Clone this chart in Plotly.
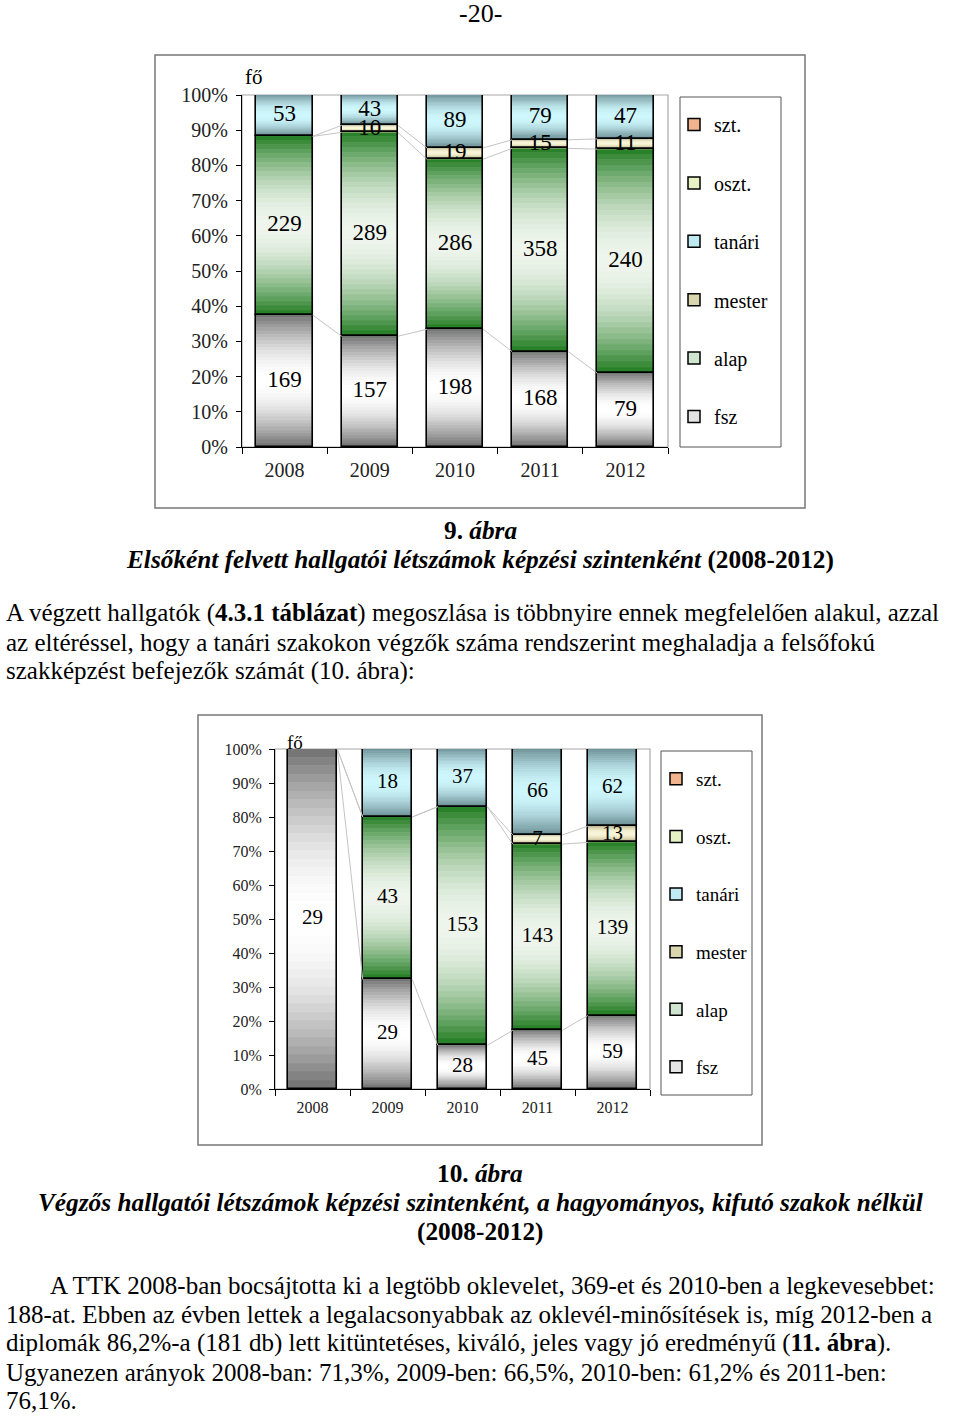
import numpy as np
import plotly.graph_objects as go

W, H = 960, 1416

# ---------------- data ----------------
years = ["2008", "2009", "2010", "2011", "2012"]
series_names = ["fsz", "alap", "mester", "tanári", "oszt.", "szt."]
y_tick_vals = [0, 10, 20, 30, 40, 50, 60, 70, 80, 90, 100]
y_tick_text = ["0%", "10%", "20%", "30%", "40%", "50%", "60%", "70%", "80%", "90%", "100%"]

# chart 9: first-year admissions by level
c1_fsz = [169, 157, 198, 168, 79]
c1_alap = [229, 289, 286, 358, 240]
c1_mester = [0, 10, 19, 15, 11]
c1_tanari = [53, 43, 89, 79, 47]
c1_oszt = [0, 0, 0, 0, 0]
c1_szt = [0, 0, 0, 0, 0]

# chart 10: graduates by level
c2_fsz = [29, 29, 28, 45, 59]
c2_alap = [0, 43, 153, 143, 139]
c2_mester = [0, 0, 0, 7, 13]
c2_tanari = [0, 18, 37, 66, 62]
c2_oszt = [0, 0, 0, 0, 0]
c2_szt = [0, 0, 0, 0, 0]

# ---------------- styles ----------------
FONT = "Liberation Serif, Times New Roman, serif"
edge_col = {"fsz": (110, 110, 110), "alap": (30, 122, 30), "mester": (178, 172, 130),
            "tanári": (104, 140, 146), "oszt.": (190, 205, 140), "szt.": (200, 130, 90)}
light_col = {"fsz": (255, 255, 255), "alap": (238, 245, 236), "mester": (248, 244, 214),
             "tanári": (205, 246, 252), "oszt.": (240, 248, 210), "szt.": (250, 200, 170)}
legend_col = {"szt.": "#f2b48e", "oszt.": "#e6f2c4", "tanári": "#bfeaf2",
              "mester": "#d9d5ad", "alap": "#cfe5cf", "fsz": "#e4e4e4"}
NSLICE = 40
BARW = 0.66


def grad(name, t):
    f = np.sin(np.pi * t) ** 0.9
    e, l = edge_col[name], light_col[name]
    c = [int(round(e[i] + (l[i] - e[i]) * f)) for i in range(3)]
    return "rgb(%d,%d,%d)" % tuple(c)


def px(x):
    return x / W


def py(y):
    return 1 - y / H


fig = go.Figure()


def add_chart(idx, data, label_size):
    xa = "x" if idx == 1 else "x2"
    ya = "y" if idx == 1 else "y2"
    leg = "legend" if idx == 1 else "legend2"
    xs = np.arange(len(years))
    vals = np.array([data[n] for n in series_names], dtype=float)
    tot = vals.sum(axis=0)
    pct = vals / tot * 100
    cum = np.cumsum(pct, axis=0)
    bottoms = cum - pct

    # series lines between bars
    for s in range(3):
        lx, ly = [], []
        for i in range(len(years) - 1):
            lx += [xs[i] + BARW / 2, xs[i + 1] - BARW / 2, None]
            ly += [cum[s][i], cum[s][i + 1], None]
        fig.add_trace(go.Scatter(x=lx, y=ly, mode="lines", xaxis=xa, yaxis=ya,
                                 line=dict(color="#c4c4c4", width=1), showlegend=False,
                                 hoverinfo="skip"))

    # gradient slices
    for s, name in enumerate(series_names):
        h = pct[s]
        if not np.any(h > 0):
            continue
        top = cum[s]
        for k in range(NSLICE):
            t = (k + 0.5) / NSLICE
            base = top - h * (k + 1) / NSLICE
            hh = np.where(h > 0, h / NSLICE, np.nan)
            col = grad(name, t)
            fig.add_trace(go.Bar(x=xs, y=hh, base=base, width=BARW, xaxis=xa, yaxis=ya,
                                 marker=dict(color=col, line=dict(color=col, width=0.8)),
                                 showlegend=False, hoverinfo="skip"))
    # outlines
    for s, name in enumerate(series_names):
        h = pct[s]
        if not np.any(h > 0):
            continue
        fig.add_trace(go.Bar(x=xs, y=np.where(h > 0, h, np.nan), base=bottoms[s], width=BARW,
                             xaxis=xa, yaxis=ya,
                             marker=dict(color="rgba(0,0,0,0)", line=dict(color="black", width=1.6)),
                             showlegend=False, name=name))
    # labels
    for s, name in enumerate(series_names):
        v = vals[s]
        mask = v > 0
        if not np.any(mask):
            continue
        fig.add_trace(go.Scatter(x=xs[mask], y=(bottoms[s] + pct[s] / 2)[mask], mode="text",
                                 text=[str(int(a)) for a in v[mask]], xaxis=xa, yaxis=ya,
                                 textfont=dict(family=FONT, size=label_size, color="black"),
                                 showlegend=False, hoverinfo="skip"))
    # legend entries (top to bottom: szt. ... fsz)
    for name in series_names[::-1]:
        fig.add_trace(go.Bar(x=[None], y=[None], xaxis=xa, yaxis=ya, name=name, legend=leg,
                             legendgroup=name + str(idx),
                             marker=dict(color=legend_col[name], line=dict(color="black", width=1.5))))


data1 = {"fsz": c1_fsz, "alap": c1_alap, "mester": c1_mester, "tanári": c1_tanari,
         "oszt.": c1_oszt, "szt.": c1_szt}
data2 = {"fsz": c2_fsz, "alap": c2_alap, "mester": c2_mester, "tanári": c2_tanari,
         "oszt.": c2_oszt, "szt.": c2_szt}
add_chart(1, data1, 23)
add_chart(2, data2, 21)


def xaxis_cfg(dom, size, standoff):
    return dict(domain=dom, range=[-0.5, 4.5], tickmode="array", tickvals=list(range(5)),
                ticktext=years, ticks="", showline=True, linecolor="black", linewidth=1,
                showgrid=False, zeroline=False, fixedrange=True, ticklabelstandoff=standoff,
                automargin=False,
                tickfont=dict(family=FONT, size=size, color="#222"),
                minor=dict(tickmode="array", tickvals=[-0.5, 0.5, 1.5, 2.5, 3.5, 4.5],
                           ticks="outside", ticklen=6, tickcolor="black", showgrid=False))


def yaxis_cfg(dom, size, anchor):
    return dict(domain=dom, range=[0, 100], tickmode="array", tickvals=y_tick_vals,
                ticktext=y_tick_text, ticks="outside", ticklen=5, tickcolor="black",
                showline=True, linecolor="black", linewidth=1, showgrid=False,
                zeroline=False, anchor=anchor, ticklabelstandoff=4, automargin=False,
                tickfont=dict(family=FONT, size=size, color="#222"))


fig.update_layout(
    width=W, height=H, margin=dict(l=0, r=0, t=0, b=0, autoexpand=False),
    paper_bgcolor="white", plot_bgcolor="white", barmode="overlay", bargap=0,
    xaxis=xaxis_cfg([px(242), px(668)], 20, 5),
    yaxis=yaxis_cfg([py(447), py(95)], 20, "x"),
    xaxis2=dict(xaxis_cfg([px(275), px(650)], 16, 4), anchor="y2"),
    yaxis2=yaxis_cfg([py(1089), py(749)], 16, "x2"),
    legend=dict(x=px(674), y=py(105), xanchor="left", yanchor="top",
                traceorder="grouped", tracegroupgap=29.4, bgcolor="rgba(0,0,0,0)",
                font=dict(family=FONT, size=20, color="black"), itemwidth=30),
    legend2=dict(x=px(656), y=py(760), xanchor="left", yanchor="top",
                 traceorder="grouped", tracegroupgap=29.9, bgcolor="rgba(0,0,0,0)",
                 font=dict(family=FONT, size=19, color="black"), itemwidth=30),
    showlegend=True,
)

shapes = []
# outer frames
shapes.append(dict(type="rect", xref="paper", yref="paper", x0=px(155), x1=px(805),
                   y0=py(508), y1=py(55), line=dict(color="#777", width=1.5)))
shapes.append(dict(type="rect", xref="paper", yref="paper", x0=px(198), x1=px(762),
                   y0=py(1145), y1=py(715), line=dict(color="#777", width=1.5)))
# legend boxes
shapes.append(dict(type="rect", xref="paper", yref="paper", x0=px(680), x1=px(781),
                   y0=py(447), y1=py(97), line=dict(color="#555", width=1)))
shapes.append(dict(type="rect", xref="paper", yref="paper", x0=px(661), x1=px(752),
                   y0=py(1095), y1=py(751), line=dict(color="#555", width=1)))
# plot area borders
for xr, yr in (("x domain", "y domain"), ("x2 domain", "y2 domain")):
    shapes.append(dict(type="rect", xref=xr, yref=yr, x0=0, x1=1, y0=0, y1=1,
                       line=dict(color="#a8a8a8", width=1.2), layer="below"))
fig.update_layout(shapes=shapes)

ann = []


def text(x, y, s, size, anchor="left", color="black"):
    ann.append(dict(x=px(x), y=py(y), xref="paper", yref="paper", text=s, showarrow=False,
                    xanchor=anchor, yanchor="middle",
                    font=dict(family=FONT, size=size, color=color)))


BODY = 25
CAP = 25.3
text(480, 13, "-20-", 26, "center")
text(243, 77, "fő", 21)
text(285, 742, "fő", 19)

text(480, 530, "<b>9. <i>ábra</i></b>", CAP, "center")
text(480, 559, "<b><i>Elsőként felvett hallgatói létszámok képzési szintenként</i> (2008-2012)</b>", CAP, "center")

text(4, 613, "A végzett hallgatók (<b>4.3.1 táblázat</b>) megoszlása is többnyire ennek megfelelően alakul, azzal", BODY)
text(4, 642, "az eltéréssel, hogy a tanári szakokon végzők száma rendszerint meghaladja a felsőfokú", BODY)
text(4, 671, "szakképzést befejezők számát (10. ábra):", BODY)

text(480, 1173, "<b>10. <i>ábra</i></b>", CAP, "center")
text(480, 1202, "<b><i>Végzős hallgatói létszámok képzési szintenként, a hagyományos, kifutó szakok nélkül</i></b>", CAP, "center")
text(480, 1231, "<b>(2008-2012)</b>", CAP, "center")

text(48, 1285, "A TTK 2008-ban bocsájtotta ki a legtöbb oklevelet, 369-et és 2010-ben a legkevesebbet:", BODY)
text(4, 1314, "188-at. Ebben az évben lettek a legalacsonyabbak az oklevél-minősítések is, míg 2012-ben a", BODY)
text(4, 1343, "diplomák 86,2%-a (181 db) lett kitüntetéses, kiváló, jeles vagy jó eredményű (<b>11. ábra</b>).", BODY)
text(4, 1372, "Ugyanezen arányok 2008-ban: 71,3%, 2009-ben: 66,5%, 2010-ben: 61,2% és 2011-ben:", BODY)
text(4, 1400, "76,1%.", BODY)

fig.update_layout(annotations=ann)

fig.write_html("out.html", post_script="document.body.style.margin='0';")
